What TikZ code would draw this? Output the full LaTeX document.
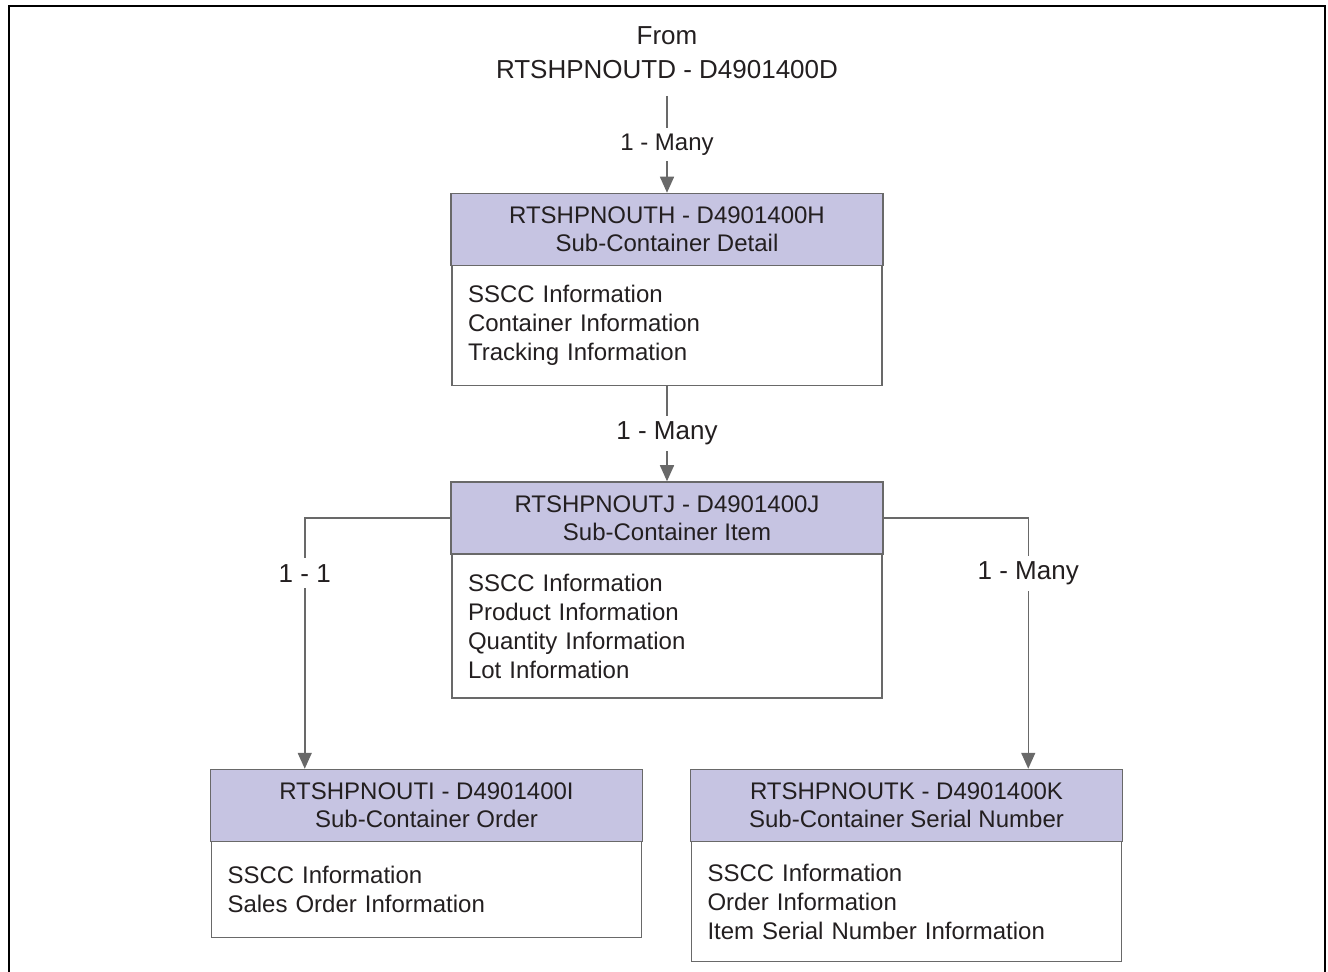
\documentclass[tikz,border=0pt]{standalone}
\usepackage{fontspec}
\setmainfont{Liberation Sans}
\usepackage{tikz}
\usetikzlibrary{arrows.meta,positioning}
\usepackage{xcolor}
\definecolor{hdrfill}{RGB}{198,196,226}
\definecolor{linegray}{RGB}{105,105,105}
\definecolor{textgray}{RGB}{35,31,32}

\begin{document}
\begin{tikzpicture}[x=0.5pt,y=-0.5pt,line width=0.75pt,
    >={Triangle[width=7pt,length=8pt]},
    header/.style={draw=linegray,fill=hdrfill,minimum width=216pt,minimum height=36pt,
      align=center,text=textgray,font=\fontsize{12}{14}\selectfont},
    body/.style={draw=linegray,fill=white,text width=199pt,inner xsep=8pt,align=left,
      text=textgray,font=\fontsize{12}{14.5}\selectfont,below=-0.75pt of #1},
    conn/.style={->,draw=linegray},
    rel/.style={fill=white,text=textgray,inner sep=3pt,font=\fontsize{13}{15}\selectfont}]
  \useasboundingbox (0,0) rectangle (1328,972);
  \draw[line width=1pt,black] (9,972) |- (1325,6) -- (1325,972);

  \node[text=textgray,align=center,inner ysep=8pt,font=\fontsize{13}{17}\selectfont]
                         (from) at (667,53)   {From\\RTSHPNOUTD - D4901400D};

  \node[header]          (hH) at (667,229.5)  {RTSHPNOUTH - D4901400H\\Sub-Container Detail};
  \node[body=hH,minimum height=60pt] (bH)    {SSCC Information\\Container Information\\Tracking Information};

  \node[header]          (hJ) at (667,518)    {RTSHPNOUTJ - D4901400J\\Sub-Container Item};
  \node[body=hJ,minimum height=72pt] (bJ)    {SSCC Information\\Product Information\\Quantity Information\\Lot Information};

  \node[header]          (hI) at (426.5,805.5) {RTSHPNOUTI - D4901400I\\Sub-Container Order};
  \node[body=hI,minimum height=48pt] (bI)    {SSCC Information\\Sales Order Information};

  \node[header]          (hK) at (906.5,805.5) {RTSHPNOUTK - D4901400K\\Sub-Container Serial Number};
  \node[body=hK,minimum height=60pt] (bK)    {SSCC Information\\Order Information\\Item Serial Number Information};

  % relations
  \path (from) edge [conn] node [rel,font=\fontsize{12}{14}\selectfont] {1 - Many} (hH)
        (bH)   edge [conn] node [rel] {1 - Many} (hJ);
  \draw [conn] (hJ.west) -| ([xshift=47.5pt]hI.north west) node [rel,pos=0.61] {1 - 1};
  \draw [conn] (hJ.east) -| ([xshift=-47.5pt]hK.north east) node [rel,pos=0.61] {1 - Many};
\end{tikzpicture}
\end{document}
